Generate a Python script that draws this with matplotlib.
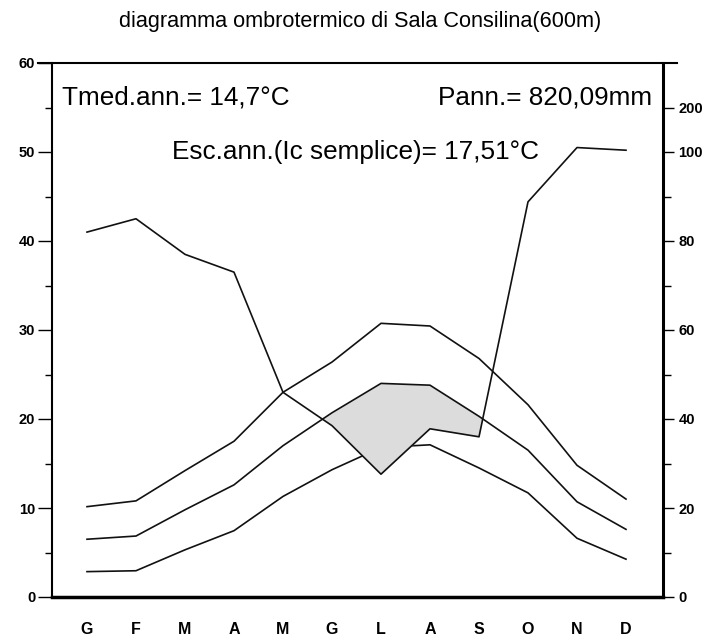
import numpy as np
import matplotlib
matplotlib.use("Agg")
from matplotlib import pyplot as plt
from matplotlib.lines import Line2D

plt.rcParams['font.family'] = ['Liberation Sans', 'DejaVu Sans']

# mesi (iniziali italiane)
mesi = ['G', 'F', 'M', 'A', 'M', 'G', 'L', 'A', 'S', 'O', 'N', 'D']

# temperature (°C)
t_max = [10.15, 10.8, 14.2, 17.5, 23.0, 26.4, 30.75, 30.45, 26.8, 21.6, 14.8, 11.0]
t_med = [6.49, 6.85, 9.8, 12.6, 17.0, 20.7, 24.0, 23.8, 20.3, 16.5, 10.7, 7.6]
t_min = [2.85, 2.95, 5.3, 7.45, 11.3, 14.3, 16.8, 17.1, 14.5, 11.7, 6.6, 4.25]

# precipitazioni (mm)
prec = [82, 85, 77, 73, 46, 38.5, 27.6, 37.8, 36, 88.8, 110, 104]

# asse destro: tick in mm
prec_ticks = [0, 20, 40, 60, 80, 100, 200]
prec_minor = [10, 30, 50, 70, 90]


def scala_prec(p):
    # P = 2T fino a 100 mm, sopra scala ridotta a 1/10
    p = np.asarray(p, dtype=float)
    return np.where(p <= 100, p / 2.0, 50 + (p - 100) / 20.0)


x = np.arange(12)
p_sc = scala_prec(prec)

fig = plt.figure(figsize=(7.2, 6.44), dpi=100)
ax = fig.add_axes([52 / 720, 1 - 597 / 644, 611 / 720, 534 / 644])
ax.set_xlim(-0.714, 11.755)
ax.set_ylim(0, 60)

lw = 1.2
ax.plot(x, t_min, color='#111111', lw=lw, zorder=2)
ax.plot(x, t_max, color='#111111', lw=lw, zorder=2)
ax.fill_between(x, p_sc, t_med, where=p_sc < np.array(t_med), interpolate=True,
                color='#dcdcdc', lw=0, zorder=3)
ax.plot(x, t_med, color='#111111', lw=lw, zorder=4)
ax.plot(x, p_sc, color='#111111', lw=lw, zorder=4)

# asse sinistro
ax.set_yticks(np.arange(0, 61, 10))
ax.set_yticks(np.arange(5, 60, 10), minor=True)
ax.tick_params(axis='y', which='major', length=10, width=1.0, pad=2,
               labelsize=10.5)
ax.tick_params(axis='y', which='minor', length=5, width=1.0)
for lab in ax.get_yticklabels():
    lab.set_fontweight('bold')

ax.set_xticks(x)
ax.set_xticklabels(mesi, fontsize=11.5, fontweight='bold')
ax.tick_params(axis='x', length=0, pad=18)

ax.spines['top'].set_visible(False)
ax.spines['right'].set_visible(False)
ax.spines['left'].set_linewidth(1.5)
ax.spines['bottom'].set_linewidth(2.5)
ax.spines['bottom'].set_zorder(5)

# asse destro
ax2 = ax.twinx()
ax2.set_ylim(0, 60)
ax2.set_yticks(scala_prec(prec_ticks))
ax2.set_yticklabels([str(v) for v in prec_ticks], fontsize=10.5, fontweight='bold')
ax2.set_yticks(scala_prec(prec_minor), minor=True)
ax2.tick_params(axis='y', which='major', length=8, width=1.0, pad=3)
ax2.tick_params(axis='y', which='minor', length=6, width=1.0)
for s in ['top', 'left', 'bottom']:
    ax2.spines[s].set_visible(False)
ax2.spines['right'].set_linewidth(2.2)

# linea superiore
fig.add_artist(Line2D([38 / 720, 677 / 720], [1 - 63 / 644, 1 - 63 / 644],
                      transform=fig.transFigure, color='black', lw=1.5))

# testi
fig.text(0.5, 1 - 22 / 644, 'diagramma ombrotermico di Sala Consilina(600m)',
         ha='center', va='center', fontsize=15.6)
ax.text(0.016, 0.936, 'Tmed.ann.= 14,7°C', transform=ax.transAxes,
        ha='left', va='center', fontsize=18.8)
ax.text(0.982, 0.936, 'Pann.= 820,09mm', transform=ax.transAxes,
        ha='right', va='center', fontsize=18.8)
ax.text(0.196, 0.833, 'Esc.ann.(Ic semplice)= 17,51°C', transform=ax.transAxes,
        ha='left', va='center', fontsize=18.8)

fig.savefig('out.png', dpi=100)
